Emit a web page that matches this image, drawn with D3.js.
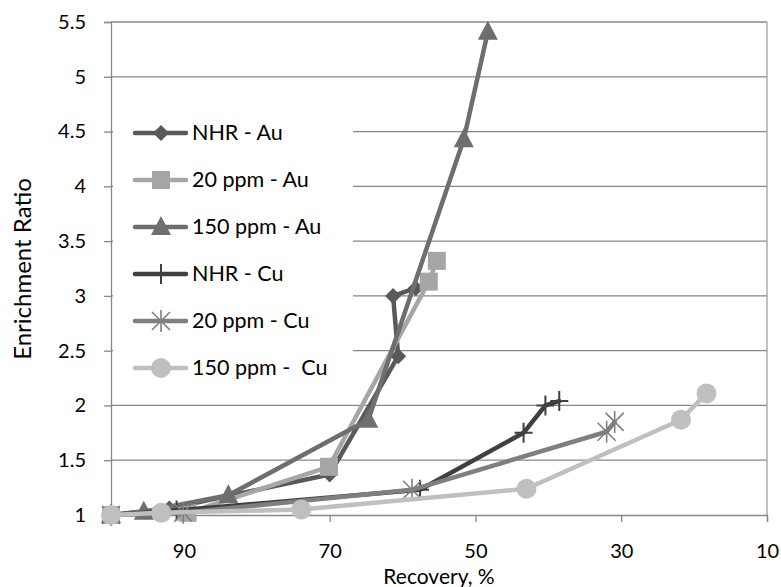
<!DOCTYPE html>
<html><head><meta charset="utf-8">
<script src="https://cdn.jsdelivr.net/npm/d3@7"></script>
<style>body{margin:0;background:#fff}svg{display:block}text{font-family:Lato,"Open Sans",sans-serif;fill:#000;white-space:pre}</style>
</head><body><svg id="c" width="781" height="587"></svg>
<script>
const seriesNames = ["NHR - Au","20 ppm - Au","150 ppm - Au","NHR - Cu","20 ppm - Cu","150 ppm -  Cu"];
const nhrAuX = [100, 92, 70, 60.6, 61.3, 58.2];
const nhrAuY = [1, 1.06, 1.37, 2.45, 3.0, 3.07];
const ppm20AuX = [100, 89.5, 70.1, 56.4, 55.3];
const ppm20AuY = [1, 1.02, 1.44, 3.13, 3.32];
const ppm150AuX = [100, 95.5, 83.9, 64.7, 51.6, 48.3];
const ppm150AuY = [1, 1.03, 1.18, 1.87, 4.43, 5.41];
const nhrCuX = [100, 91, 57.6, 43.4, 40.4, 38.5];
const nhrCuY = [1, 1.04, 1.23, 1.75, 2.0, 2.04];
const ppm20CuX = [100, 90.1, 58.7, 32.0, 30.9];
const ppm20CuY = [1, 1.02, 1.23, 1.76, 1.85];
const ppm150CuX = [100, 93.1, 73.9, 43.0, 21.8, 18.3];
const ppm150CuY = [1, 1.02, 1.05, 1.24, 1.87, 2.11];
const xTicks = [90, 70, 50, 30, 10];
const yTicks = [1, 1.5, 2, 2.5, 3, 3.5, 4, 4.5, 5, 5.5];
const yTickLabels = ["1","1.5","2","2.5","3","3.5","4","4.5","5","5.5"];

const colors = ["#595959","#a6a6a6","#6e6e6e","#3f3f3f","#7f7f7f","#bfbfbf"];
const markers = ["diamond","square","triangle","plus","star","circle"];
const xs = [nhrAuX, ppm20AuX, ppm150AuX, nhrCuX, ppm20CuX, ppm150CuX];
const ys = [nhrAuY, ppm20AuY, ppm150AuY, nhrCuY, ppm20CuY, ppm150CuY];

const svg = d3.select("#c");
const L = 111, R = 767, T = 22, B = 515;
const x = d3.scaleLinear().domain([100, 10]).range([L, R]);
const y = d3.scaleLinear().domain([1, 5.5]).range([B, T]);
const FF = "Lato, 'Open Sans', sans-serif";

// gridlines
svg.append("g").selectAll("line").data(yTicks.slice(1)).join("line")
  .attr("x1", L).attr("x2", R).attr("y1", d => y(d)).attr("y2", d => y(d))
  .attr("stroke", "#878787").attr("stroke-width", 1.3);
// right border
svg.append("line").attr("x1", R).attr("x2", R).attr("y1", T).attr("y2", B)
  .attr("stroke", "#a0a0a0").attr("stroke-width", 1.3);

// axes
const yAxis = d3.axisLeft(y).tickValues(yTicks).tickFormat((d,i) => yTickLabels[i]).tickSize(7).tickPadding(18);
const gy = svg.append("g").attr("transform", `translate(${L},0)`).call(yAxis);
gy.select(".domain").attr("stroke", "#878787").attr("stroke-width", 1.3);
gy.selectAll(".tick line").attr("stroke", "#878787").attr("stroke-width", 1.3);
gy.selectAll(".tick text").attr("font-size", 20).attr("font-family", FF).attr("fill", "#000");

const xAxis = d3.axisBottom(x).tickValues(xTicks).tickFormat(d3.format("d")).tickSize(7).tickPadding(22);
const gx = svg.append("g").attr("transform", `translate(0,${B})`).call(xAxis);
gx.select(".domain").attr("stroke", "#878787").attr("stroke-width", 1.3);
gx.selectAll(".tick line").attr("stroke", "#878787").attr("stroke-width", 1.3);
gx.selectAll(".tick text").attr("font-size", 20).attr("font-family", FF).attr("fill", "#000");

svg.append("text").attr("x", 439).attr("y", 584).attr("text-anchor", "middle").attr("font-size", 21).text("Recovery, %");
svg.append("text").attr("transform", `translate(31,269) rotate(-90)`).attr("text-anchor", "middle").attr("font-size", 24).text("Enrichment Ratio");

function drawMarker(g, type, cx, cy, color) {
  if (type === "diamond") {
    g.append("path").attr("d", `M${cx},${cy-8}L${cx+8},${cy}L${cx},${cy+8}L${cx-8},${cy}Z`).attr("fill", color);
  } else if (type === "square") {
    g.append("rect").attr("x", cx-9).attr("y", cy-9).attr("width", 18).attr("height", 18).attr("fill", color);
  } else if (type === "triangle") {
    g.append("path").attr("d", `M${cx},${cy-11}L${cx+10},${cy+8}L${cx-10},${cy+8}Z`).attr("fill", color);
  } else if (type === "plus") {
    g.append("path").attr("d", `M${cx-9},${cy}L${cx+9},${cy}M${cx},${cy-10}L${cx},${cy+10}`).attr("stroke", color).attr("stroke-width", 2);
  } else if (type === "star") {
    g.append("path").attr("d", `M${cx-9},${cy-9}L${cx+9},${cy+9}M${cx-9},${cy+9}L${cx+9},${cy-9}M${cx},${cy-11}L${cx},${cy+11}`).attr("stroke", color).attr("stroke-width", 1.6);
  } else if (type === "circle") {
    g.append("circle").attr("cx", cx).attr("cy", cy).attr("r", 10).attr("fill", color);
  }
}

const line = d3.line().x(d => x(d[0])).y(d => y(d[1]));
for (let s = 0; s < 6; s++) {
  const g = svg.append("g");
  const pts = xs[s].map((v, i) => [v, ys[s][i]]);
  g.append("path").attr("d", line(pts)).attr("fill", "none").attr("stroke", colors[s])
    .attr("stroke-width", 4.5).attr("stroke-linejoin", "round").attr("stroke-linecap", "round");
  pts.forEach(p => drawMarker(g, markers[s], x(p[0]), y(p[1]), colors[s]));
}

// legend
const lg = svg.append("g");
lg.append("rect").attr("x", 113).attr("y", 110).attr("width", 240).attr("height", 282).attr("fill", "#fff");
seriesNames.forEach((n, i) => {
  const cy = 133 + i * 47;
  lg.append("line").attr("x1", 135).attr("x2", 186).attr("y1", cy).attr("y2", cy)
    .attr("stroke", colors[i]).attr("stroke-width", 4.5).attr("stroke-linecap", "round");
  drawMarker(lg, markers[i], 161, cy, colors[i]);
  lg.append("text").attr("x", 192).attr("y", cy + 7).attr("font-size", 21.5).text(n);
});
</script></body></html>
